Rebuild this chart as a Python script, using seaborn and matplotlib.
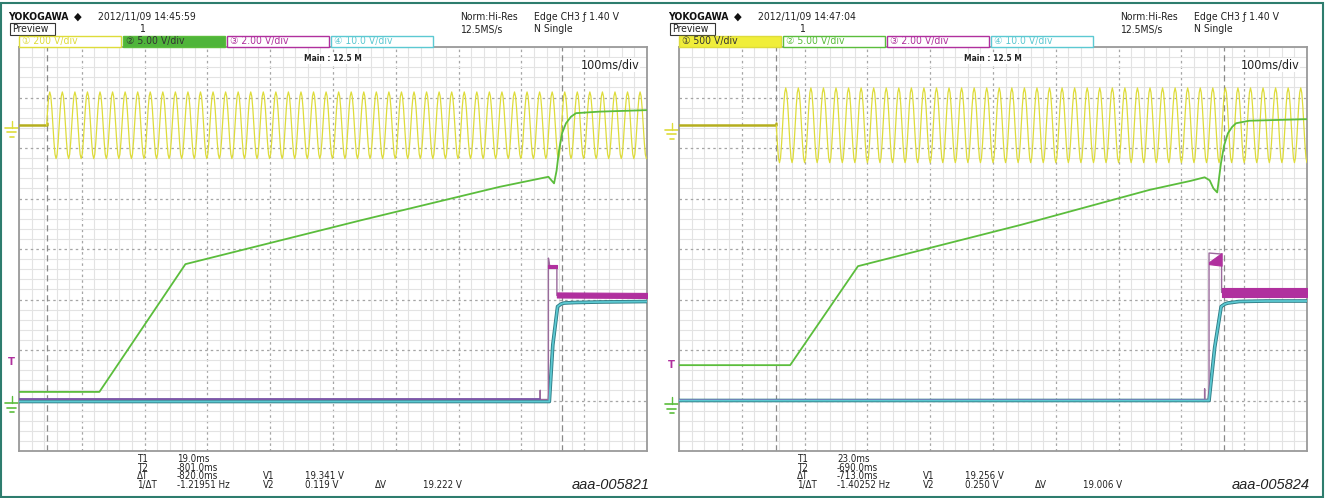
import numpy as np
import pandas as pd
import matplotlib
matplotlib.use("Agg")
import matplotlib.pyplot as plt
from matplotlib.patches import Rectangle
from matplotlib.transforms import blended_transform_factory
import seaborn as sns

# ---- screen: 10 x 8 divisions, 100 ms/div, trigger at 84.5 % of the record
time_window_ms = [-845, 155]
div_window = [-4, 4]

# one cycle of the 50 Hz input as drawn (normalised), repeated over the record
ac_period_ms = 20.0
ac_cycle_shape = [0.0, 0.5, 0.87, 1.0, 0.87, 0.5, 0.0, -0.5, -0.87, -1.0, -0.87, -0.5]

# ---- left capture (low line)
left_header = ["2012/11/09 14:45:59", "200 V/div", "5.00 V/div", "2.00 V/div", "10.0 V/div"]
left_yellow_start_ms = -801.0
left_yellow_offset_div = 2.45
left_yellow_amp_div = 0.66
left_yellow_sign = 1

left_green_t = [-845, -717, -580, -300, -80, -2, 7, 11, 15, 20, 26, 34, 42, 79, 155]
left_green_v = [-2.83, -2.83, -0.30, 0.57, 1.23, 1.43, 1.30, 1.55, 1.96, 2.30, 2.49, 2.62, 2.69, 2.72, 2.75]

left_magenta_t = [-845, -15, -15, -15, -2, -2, 0, 11.5, 11.5, 155]
left_magenta_v = [-2.98, -2.98, -2.80, -2.98, -2.98, -0.18, -0.33, -0.35, -0.92, -0.92]
left_magenta_band_t = [[-2, 11.5], [11.5, 155]]
left_magenta_band_hi = [[-0.31, -0.31], [-0.86, -0.87]]
left_magenta_band_lo = [[-0.38, -0.38], [-0.96, -0.97]]

left_cyan_t = [-845, -0.5, 5, 12.6, 18, 23, 40, 79, 155]
left_cyan_v = [-3.02, -3.02, -1.90, -1.14, -1.09, -1.07, -1.06, -1.05, -1.04]

left_cursors_ms = [19.0, -801.0]
left_readout = [("T1", "19.0ms"), ("T2", "-801.0ms"), ("ΔT", "-820.0ms"), ("1/ΔT", "-1.21951 Hz")]
left_volts = [("V1", "19.341 V"), ("V2", "0.119 V")]
left_dv = "19.222 V"
left_code = "aaa-005821"
left_markers_div = [2.40, -3.05, -2.24]

# ---- right capture (high line)
right_header = ["2012/11/09 14:47:04", "500 V/div", "5.00 V/div", "2.00 V/div", "10.0 V/div"]
right_yellow_start_ms = -690.0
right_yellow_offset_div = 2.45
right_yellow_amp_div = 0.74
right_yellow_sign = -1

right_green_t = [-845, -668, -560, -300, -96, -30, -8, 0, 6, 12, 18, 23, 29, 36, 42, 63, 152, 155]
right_green_v = [-2.30, -2.30, -0.34, 0.48, 1.17, 1.35, 1.42, 1.36, 1.20, 1.12, 1.70, 2.05, 2.29, 2.42, 2.49, 2.54, 2.57, 2.57]

right_magenta_t = [-845, -8, -8, -8, -1, -1, 19, 19, 155]
right_magenta_v = [-2.99, -2.99, -2.77, -2.99, -2.99, -0.08, -0.10, -0.86, -0.86]
right_magenta_band_t = [[-1, 19], [19, 155]]
right_magenta_band_hi = [[-0.26, -0.08], [-0.77, -0.77]]
right_magenta_band_lo = [[-0.30, -0.33], [-0.95, -0.95]]

right_cyan_t = [-845, -1, 8, 18.3, 24, 29, 47, 90, 155]
right_cyan_v = [-3.00, -3.00, -1.95, -1.14, -1.09, -1.07, -1.04, -1.03, -1.03]

right_cursors_ms = [23.0, -690.0]
right_readout = [("T1", "23.0ms"), ("T2", "-690.0ms"), ("ΔT", "-713.0ms"), ("1/ΔT", "-1.40252 Hz")]
right_volts = [("V1", "19.256 V"), ("V2", "0.250 V")]
right_dv = "19.006 V"
right_code = "aaa-005824"
right_markers_div = [2.36, -3.07, -2.30]

YELLOW = "#dedc3a"
YELLOW_DARK = "#b5ae1e"
GREEN = "#5bbd3c"
MAGENTA = "#b0309e"
CYAN = "#5cc9d2"
TEAL = "#2f7d86"
INK = "#222222"

W, H = 1325, 498
sns.set_style("white")
plt.rcParams["font.family"] = ["DejaVu Sans", "Noto Sans CJK SC"]
plt.rcParams["font.stretch"] = "condensed"

fig = plt.figure(figsize=(W / 100, H / 100), dpi=100)


def fx(px):
    return px / W


def fy(py):
    return 1 - py / H


def ftext(px, py, s, **kw):
    kw.setdefault("color", INK)
    fig.text(fx(px), fy(py), s, va="center", **kw)


def yellow_trace(start, offset, amp, sign):
    n = int((time_window_ms[1] - start) / ac_period_ms) + 1
    shape = np.tile(ac_cycle_shape, n)
    t = start + np.arange(len(shape)) * ac_period_ms / len(ac_cycle_shape)
    v = offset + sign * amp * shape
    keep = t <= time_window_ms[1]
    return pd.DataFrame({"t": t[keep], "v": v[keep]})


def draw_panel(x0, header, y_args, g_t, g_v, m_t, m_v, mb_t, mb_hi, mb_lo,
               c_t, c_v, cursors, readout, volts, dv, code, markers, active):
    ax = fig.add_axes([fx(x0), fy(451), fx(628), (451 - 47) / H])
    ax.set_xlim(*time_window_ms)
    ax.set_ylim(*div_window)
    ax.set_xticks(np.arange(-745, 100, 100))
    ax.set_xticks(np.arange(-845, 156, 20), minor=True)
    ax.set_yticks(np.arange(-3, 4, 1))
    ax.set_yticks(np.arange(-4, 4.01, 0.2), minor=True)
    ax.tick_params(which="both", length=0, labelbottom=False, labelleft=False)
    ax.set_axisbelow(True)
    ax.grid(which="minor", color="#e3e3e3", lw=0.8)
    ax.grid(which="major", color="#a5a5a5", lw=0.9, ls=(0, (2, 2.5)))
    for s in ax.spines.values():
        s.set_color("#9a9a9a")
        s.set_linewidth(1.3)

    for c in cursors:
        ax.axvline(c, color="#8a8a8a", lw=0.9, ls=(0, (5, 3)), zorder=1)

    start, offset, amp, sign = y_args
    sns.lineplot(x=[time_window_ms[0], start, start], y=[offset, offset, offset + 0.05],
                 ax=ax, color=YELLOW_DARK, lw=1.8, sort=False, estimator=None, zorder=3)
    yd = yellow_trace(start, offset, amp, sign)
    sns.lineplot(data=yd, x="t", y="v", ax=ax, color=YELLOW, lw=0.9,
                 sort=False, estimator=None, zorder=3)

    cyan = pd.DataFrame({"t": c_t, "v": c_v})
    sns.lineplot(data=cyan, x="t", y="v", ax=ax, color=TEAL, lw=2.6,
                 sort=False, estimator=None, zorder=4)
    sns.lineplot(data=cyan, x="t", y="v", ax=ax, color=CYAN, lw=1.3,
                 sort=False, estimator=None, zorder=5)

    mag = pd.DataFrame({"t": m_t, "v": m_v})
    sns.lineplot(data=mag, x="t", y="v", ax=ax, color="#9a6a9c", lw=1.0,
                 sort=False, estimator=None, zorder=4)
    for bt, bh, bl in zip(mb_t, mb_hi, mb_lo):
        ax.fill_between(bt, bl, bh, color=MAGENTA, lw=0.8, ec=MAGENTA, zorder=4)
    sns.lineplot(x=[m_t[0], m_t[1]], y=[m_v[0], m_v[1]], ax=ax, color="#7a55a8",
                 lw=1.3, sort=False, estimator=None, zorder=4)

    sns.lineplot(x=g_t, y=g_v, ax=ax, color=GREEN, lw=1.3,
                 sort=False, estimator=None, zorder=6)
    ax.set_xlabel("")
    ax.set_ylabel("")

    ax.text(0.5, 0.982, "Main : 12.5 M", transform=ax.transAxes, ha="center",
            va="top", fontsize=6, fontweight="bold", color=INK,
            bbox=dict(fc="white", ec="none", pad=0.5))
    ax.text(0.988, 0.972, "100ms/div", transform=ax.transAxes, ha="right",
            va="top", fontsize=9, color=INK,
            bbox=dict(fc="white", ec="none", pad=0.5))

    # channel markers on the left edge
    tr = blended_transform_factory(ax.transAxes, ax.transData)
    for yv, col in [(markers[0], YELLOW), (markers[1], GREEN)]:
        for dy, w in [(0.0, 0.011), (-0.09, 0.007), (-0.18, 0.003)]:
            ax.plot([-0.0115 - w, -0.0115 + w], [yv + dy, yv + dy], color=col,
                    lw=1.2, transform=tr, clip_on=False)
        ax.plot([-0.0115, -0.0115], [yv, yv + 0.14], color=col, lw=1.0,
                transform=tr, clip_on=False)
    ax.text(-0.012, markers[2], "T", transform=tr, ha="center", va="center",
            color=MAGENTA, fontsize=8, fontweight="bold", clip_on=False)

    # header
    ftext(x0 - 11, 17, "YOKOGAWA", fontsize=7.5, fontweight="bold", color="#111111")
    ftext(x0 + 55, 17, "◆", fontsize=8, color="#111111")
    ftext(x0 + 79, 17, header[0], fontsize=7.5)
    fig.patches.append(Rectangle((fx(x0 - 9), fy(35)), fx(45), 12 / H, transform=fig.transFigure,
                                 fill=False, ec="#333333", lw=0.8))
    ftext(x0 - 7, 29.5, "Preview", fontsize=7.5)
    ftext(x0 + 120, 29.5, "1", fontsize=7.5)
    ftext(x0 + 441, 17, "Norm:Hi-Res", fontsize=7.5)
    ftext(x0 + 441, 29.5, "12.5MS/s", fontsize=7.5)
    ftext(x0 + 515, 17, "Edge CH3 ƒ 1.40 V", fontsize=7.5)
    ftext(x0 + 515, 29.5, "N Single", fontsize=7.5)

    box_cols = [("#f0ee3a", YELLOW), ("#4fb53a", GREEN), ("#ffffff", MAGENTA), ("#ffffff", CYAN)]
    for i, (fill, col) in enumerate(box_cols):
        bx = x0 + i * 104
        filled = i == active
        fig.patches.append(Rectangle((fx(bx), fy(47)), fx(102), 11 / H, transform=fig.transFigure,
                                     fc=fill if filled else "white", ec=col, lw=1.0))
        ftext(bx + 3, 41, "①②③④"[i] + " " + header[i + 1], fontsize=7.5,
              color="#333333" if filled else col)

    # cursor readout
    for k, (lab, val) in enumerate(readout):
        ftext(x0 + 118, 459 + k * 8.5, lab, fontsize=7)
        ftext(x0 + 158, 459 + k * 8.5, val, fontsize=7)
    for k, (lab, val) in enumerate(volts):
        ftext(x0 + 244, 476 + k * 8.5, lab, fontsize=7)
        ftext(x0 + 286, 476 + k * 8.5, val, fontsize=7)
    ftext(x0 + 356, 484.5, "ΔV", fontsize=7)
    ftext(x0 + 404, 484.5, dv, fontsize=7)
    fig.text(fx(x0 + 631), fy(485), code, ha="right", va="center", fontsize=10.5,
             style="italic", color=INK, family=["Liberation Sans", "DejaVu Sans"],
             stretch="normal")
    return ax


draw_panel(19, left_header,
           (left_yellow_start_ms, left_yellow_offset_div, left_yellow_amp_div, left_yellow_sign),
           left_green_t, left_green_v, left_magenta_t, left_magenta_v,
           left_magenta_band_t, left_magenta_band_hi, left_magenta_band_lo,
           left_cyan_t, left_cyan_v, left_cursors_ms, left_readout, left_volts,
           left_dv, left_code, left_markers_div, active=1)
draw_panel(679, right_header,
           (right_yellow_start_ms, right_yellow_offset_div, right_yellow_amp_div, right_yellow_sign),
           right_green_t, right_green_v, right_magenta_t, right_magenta_v,
           right_magenta_band_t, right_magenta_band_hi, right_magenta_band_lo,
           right_cyan_t, right_cyan_v, right_cursors_ms, right_readout, right_volts,
           right_dv, right_code, right_markers_div, active=0)

# teal frame round the whole picture
fig.patches.append(Rectangle((fx(1), fy(497)), fx(1322), 494 / H, transform=fig.transFigure,
                             fill=False, ec="#2e7d6e", lw=1.5))

fig.savefig("out.png", dpi=100)
